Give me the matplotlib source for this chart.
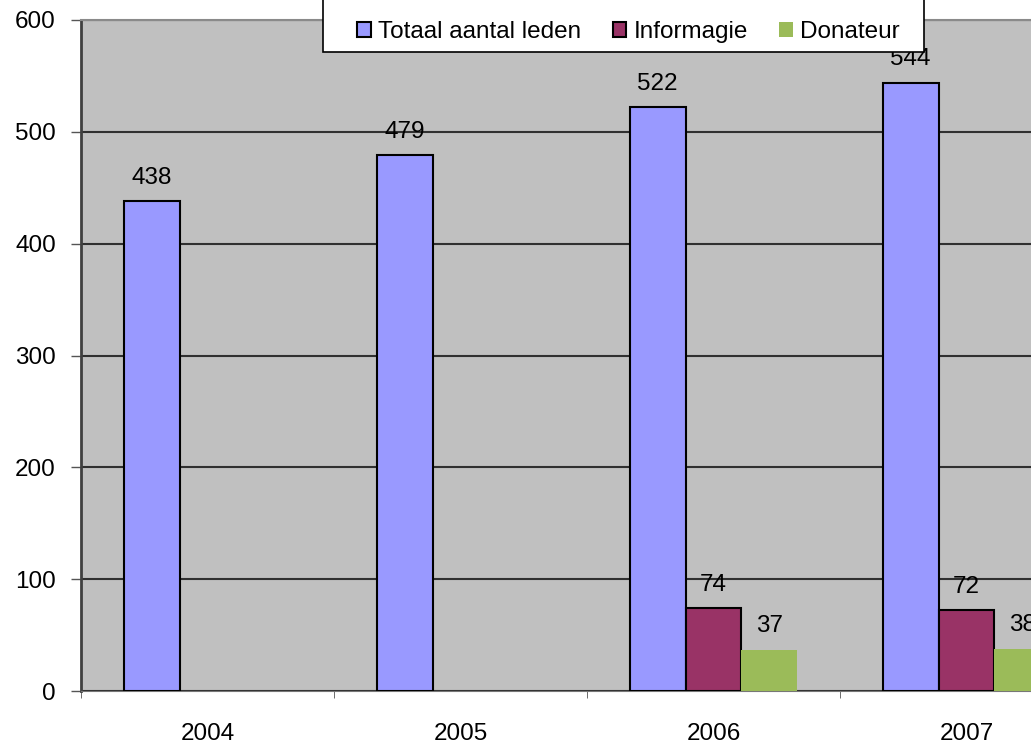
import matplotlib
matplotlib.use('Agg')
import matplotlib.pyplot as plt
from matplotlib.patches import Rectangle
import numpy as np

plt.rcParams['font.family'] = ['Liberation Sans', 'DejaVu Sans']

# chart data
years = ['2004', '2005', '2006', '2007']
series_names = ['Totaal aantal leden', 'Informagie', 'Donateur']
totaal = [438, 479, 522, 544]
informagie = [np.nan, np.nan, 74, 72]
donateur = [np.nan, np.nan, 37, 38]

colors = ['#9999FF', '#993366', '#9BBB59']
edges = ['black', 'black', 'none']
fs = 17.5
W, H = 1031, 747

fig = plt.figure(figsize=(W / 100, H / 100), dpi=100)
ax = fig.add_axes([81 / W, 56 / H, 950 / W, 671 / H])
ax.set_facecolor('#C0C0C0')

x = np.arange(len(years))
w = 0.2213
for i, (vals, name) in enumerate(zip([totaal, informagie, donateur], series_names)):
    pos = x + (i - 1) * w
    ax.bar(pos, vals, width=w, color=colors[i], edgecolor=edges[i],
           linewidth=1.5, label=name, zorder=3)
    for p, v in zip(pos, vals):
        if np.isnan(v):
            continue
        ax.annotate(str(v), (p, v), xytext=(0, 17), textcoords='offset points',
                    ha='center', va='center', fontsize=fs, zorder=4)

ax.set_yticks(range(0, 601, 100))
ax.yaxis.grid(True, color='#303030', linewidth=1.5, zorder=1)
ax.set_axisbelow(True)

ax.set_xticks(x)
ax.set_xticklabels(years, fontsize=fs)
ax.tick_params(axis='x', which='major', length=0, pad=23)
ax.set_xticks(np.arange(-0.5, len(years), 1), minor=True)
ax.tick_params(axis='x', which='minor', length=5, color='#555555', direction='out')
ax.tick_params(axis='y', labelsize=fs, length=7, width=1, color='#555555', pad=11)

# limits last, the tick calls above widen the view
ax.set_ylim(0, 600)
ax.set_xlim(-0.5, -0.5 + 950 / 253)

ax.spines['left'].set_color('#404040')
ax.spines['left'].set_linewidth(2)
ax.spines['bottom'].set_color('#777777')
ax.spines['bottom'].set_linestyle((0, (1, 1)))
ax.spines['top'].set_color('#8A8A8A')
ax.spines['top'].set_linewidth(1.5)
ax.spines['right'].set_visible(False)

# legend box runs off the top edge in the original, so draw the frame by hand
box = Rectangle((323 / W, (H - 52) / H), (924 - 323) / W, 80 / H,
                transform=fig.transFigure, facecolor='white',
                edgecolor='black', linewidth=1.2, zorder=4)
fig.patches.append(box)

handles, labels = ax.get_legend_handles_labels()
leg = fig.legend(handles, labels, loc='center', ncol=3,
                 bbox_to_anchor=(628.5 / W, (H - 32) / H),
                 bbox_transform=fig.transFigure, fontsize=fs,
                 frameon=False, borderaxespad=0, borderpad=0,
                 handlelength=0.55, handleheight=0.55, handletextpad=0.3,
                 columnspacing=1.3)
leg.set_zorder(5)

fig.savefig('out.png', dpi=100)
